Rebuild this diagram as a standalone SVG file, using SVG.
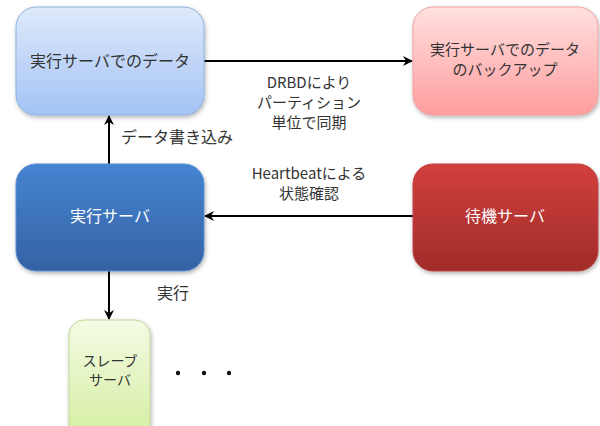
<svg xmlns="http://www.w3.org/2000/svg" width="600" height="426" viewBox="0 0 600 426">
<style>
text{font-family:"Noto Sans CJK JP","Noto Sans",sans-serif;font-size:16px;text-anchor:middle;fill:#333333}
.m{font-size:15px}
.w{fill:#ffffff}
.s{font-size:14px}
.c{stroke:#000;stroke-width:2;fill:none}
</style>
<defs>
<linearGradient id="gb1" x1="0" y1="0" x2="0" y2="1"><stop offset="0" stop-color="#dfe9fb"/><stop offset="1" stop-color="#a3c3f4"/></linearGradient>
<linearGradient id="gp" x1="0" y1="0" x2="0" y2="1"><stop offset="0" stop-color="#ffe0e0"/><stop offset="1" stop-color="#ff9d9d"/></linearGradient>
<linearGradient id="gb2" x1="0" y1="0" x2="0" y2="1"><stop offset="0" stop-color="#4584d2"/><stop offset="1" stop-color="#3562a3"/></linearGradient>
<linearGradient id="gr" x1="0" y1="0" x2="0" y2="1"><stop offset="0" stop-color="#d2403d"/><stop offset="1" stop-color="#a02c2a"/></linearGradient>
<linearGradient id="gg" x1="0" y1="0" x2="0" y2="1"><stop offset="0" stop-color="#f4fbe4"/><stop offset="1" stop-color="#d4eea0"/></linearGradient>
<filter id="sh" x="-10%" y="-10%" width="130%" height="130%"><feDropShadow dx="1" dy="2" stdDeviation="2" flood-color="#000" flood-opacity="0.3"/></filter>
<marker id="ah" viewBox="0 0 10 10" refX="9" refY="5" markerWidth="5" markerHeight="5" orient="auto"><path d="M0,0 L10,5 L0,10 L3,5 Z" fill="#000"/></marker>
</defs>
<g id="connectors">
<line class="c" x1="204" y1="61" x2="412" y2="61" marker-end="url(#ah)"/>
<line class="c" x1="109" y1="164" x2="109" y2="116" marker-end="url(#ah)"/>
<line class="c" x1="413" y1="216" x2="205" y2="216" marker-end="url(#ah)"/>
<line class="c" x1="109" y1="271" x2="109" y2="319" marker-end="url(#ah)"/>
<text class="m" x="309" y="88">DRBDにより</text>
<text class="m" x="309" y="108">パーティション</text>
<text class="m" x="309" y="128">単位で同期</text>
<text x="177" y="143">データ書き込み</text>
<text class="m" x="309" y="179">Heartbeatによる</text>
<text class="m" x="309" y="199">状態確認</text>
<text x="173" y="299">実行</text>
</g>
<g id="node-data">
<rect x="16" y="7" width="188" height="108" rx="20" fill="url(#gb1)" stroke="#8db3e2" stroke-width="1" filter="url(#sh)"/>
<text x="110" y="67">実行サーバでのデータ</text>
</g>
<g id="node-backup">
<rect x="413" y="7" width="185" height="108" rx="20" fill="url(#gp)" stroke="#f0a0a0" stroke-width="1" filter="url(#sh)"/>
<text class="m" x="505" y="55">実行サーバでのデータ</text>
<text class="m" x="505" y="75">のバックアップ</text>
</g>
<g id="node-active">
<rect x="16" y="164" width="188" height="107" rx="20" fill="url(#gb2)" stroke="#5b8fd0" stroke-width="1" filter="url(#sh)"/>
<text class="w" x="110" y="222">実行サーバ</text>
</g>
<g id="node-standby">
<rect x="413" y="164" width="185" height="107" rx="20" fill="url(#gr)" stroke="#c04040" stroke-width="1" filter="url(#sh)"/>
<text class="w" x="505" y="222">待機サーバ</text>
</g>
<g id="node-slave">
<rect x="69" y="320" width="81" height="120" rx="15" fill="url(#gg)" stroke="#c3d69b" stroke-width="1" filter="url(#sh)"/>
<text class="s" x="110" y="366">スレーブ</text>
<text class="s" x="110" y="385">サーバ</text>
</g>
<g id="dots">
<circle cx="178" cy="373" r="2.2" fill="#111"/>
<circle cx="204" cy="373" r="2.2" fill="#111"/>
<circle cx="229" cy="373" r="2.2" fill="#111"/>
</g>
</svg>
